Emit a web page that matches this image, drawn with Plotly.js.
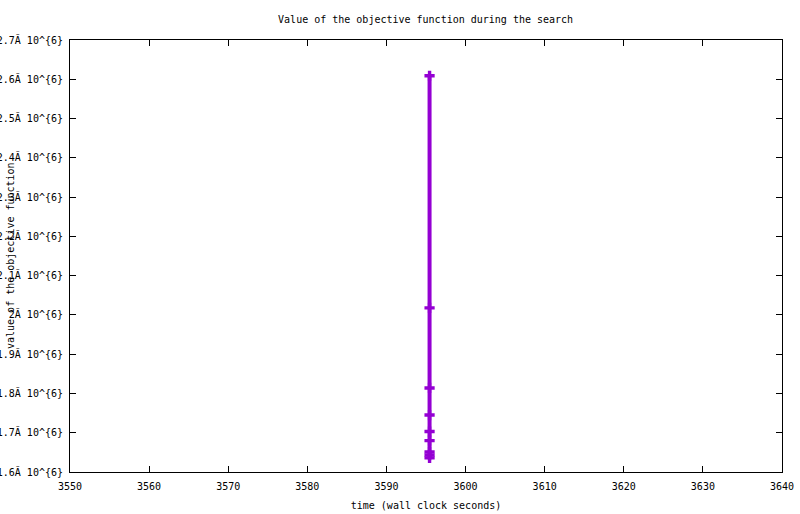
<!DOCTYPE html>
<html>
<head>
<meta charset="utf-8">
<script src="https://cdn.plot.ly/plotly-3.0.1.min.js"></script>
<style>html,body{margin:0;padding:0;background:#fff;}</style>
</head>
<body>
<div id="chart" style="width:800px;height:514px;"></div>
<script>
// Data
const timeSeconds = [3595.45, 3595.45, 3595.45, 3595.45, 3595.45, 3595.45, 3595.45, 3595.45, 3595.45];
const objectiveValues = [2609000, 2018000, 1814000, 1745000, 1703000, 1680000, 1651000, 1643000, 1636000];

const yTickValues = [1.6e6, 1.7e6, 1.8e6, 1.9e6, 2.0e6, 2.1e6, 2.2e6, 2.3e6, 2.4e6, 2.5e6, 2.6e6, 2.7e6];
const yTickLabels = ["1.6Ă 10^{6}", "1.7Ă 10^{6}", "1.8Ă 10^{6}", "1.9Ă 10^{6}", "2Ă 10^{6}", "2.1Ă 10^{6}",
                     "2.2Ă 10^{6}", "2.3Ă 10^{6}", "2.4Ă 10^{6}", "2.5Ă 10^{6}", "2.6Ă 10^{6}", "2.7Ă 10^{6}"];
const xTickValues = [3550, 3560, 3570, 3580, 3590, 3600, 3610, 3620, 3630, 3640];
const xTickLabels = ["3550", "3560", "3570", "3580", "3590", "3600", "3610", "3620", "3630", "3640"];

const FONT = "DejaVu Sans Mono, Liberation Mono, monospace";

const trace = {
  x: timeSeconds,
  y: objectiveValues,
  type: "scatter",
  mode: "lines+markers",
  line: {color: "#9400d3", width: 4},
  marker: {symbol: "cross", size: 8.5, color: "#9400d3", line: {width: 0}},
  showlegend: false,
  hoverinfo: "x+y"
};

const axisCommon = {
  showline: true, linecolor: "#000", linewidth: 1, mirror: "ticks",
  ticks: "inside", ticklen: 6, tickcolor: "#000", tickwidth: 1,
  showgrid: false, zeroline: false,
  tickfont: {family: FONT, size: 10, color: "#000"},
  tickmode: "array"
};

const layout = {
  width: 800, height: 514,
  margin: {l: 70, r: 18, t: 40, b: 42, pad: 0},
  paper_bgcolor: "#fff", plot_bgcolor: "#fff",
  title: {
    text: "Value of the objective function during the search",
    font: {family: FONT, size: 10, color: "#000"},
    x: 0.532, xanchor: "center", y: 0.963, yanchor: "middle"
  },
  xaxis: Object.assign({}, axisCommon, {
    range: [3550, 3640], tickvals: xTickValues, ticktext: xTickLabels,
    ticklabelstandoff: 5,
    title: {text: "time (wall clock seconds)", font: {family: FONT, size: 10, color: "#000"}, standoff: 10}
  }),
  yaxis: Object.assign({}, axisCommon, {
    range: [1.6e6, 2.7e6], tickvals: yTickValues, ticktext: yTickLabels,
    ticklabelstandoff: 4
  }),
  annotations: [{
    text: "value of the objective function",
    textangle: -90,
    xref: "paper", yref: "paper", x: 0, y: 0.5,
    xanchor: "center", yanchor: "middle", xshift: -60,
    showarrow: false,
    font: {family: FONT, size: 10, color: "#000"}
  }]
};

Plotly.newPlot("chart", [trace], layout, {staticPlot: true, displayModeBar: false});
</script>
</body>
</html>
